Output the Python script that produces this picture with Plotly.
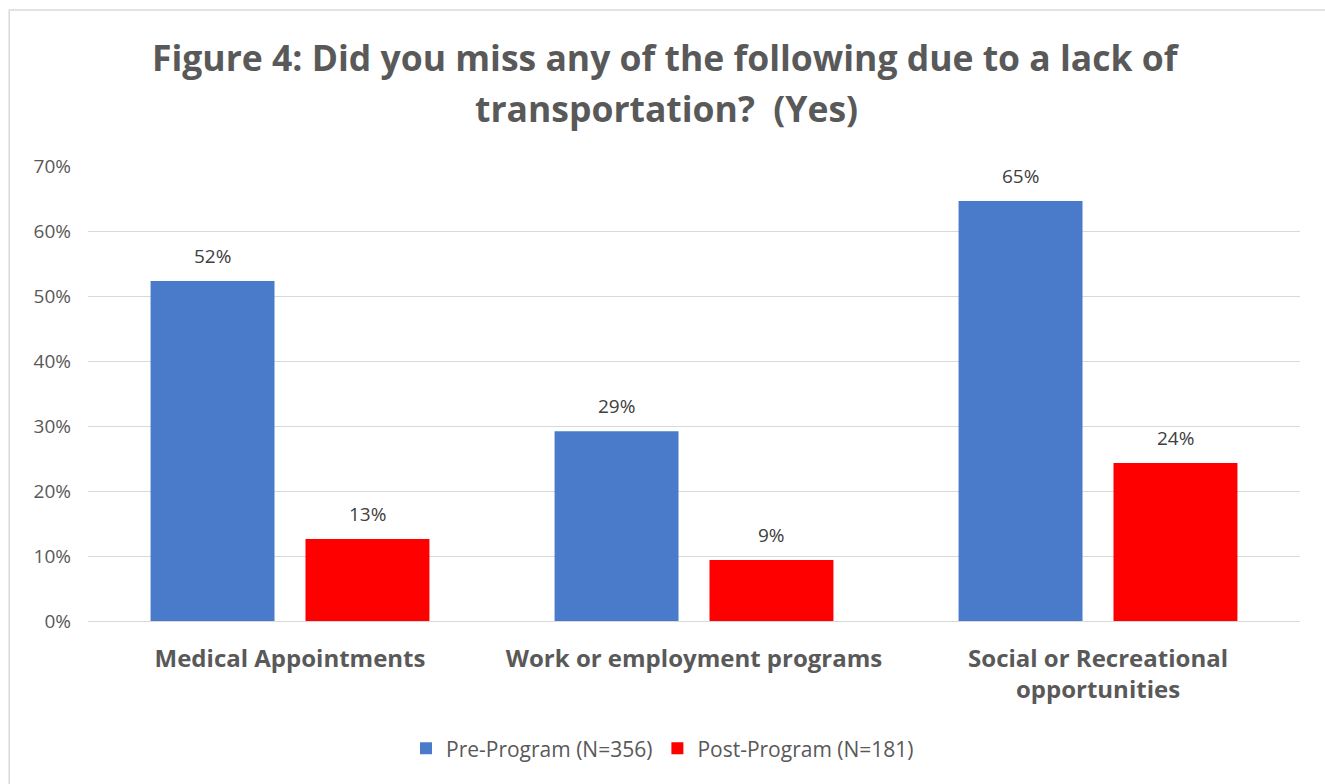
import plotly.graph_objects as go

# Survey results: share of respondents answering "Yes"
categories = [
    "Medical Appointments",
    "Work or employment programs",
    "Social or Recreational<br>opportunities",
]
pre_program = [0.523, 0.292, 0.646]
post_program = [0.126, 0.094, 0.243]
series_names = ["Pre-Program (N=356)", "Post-Program (N=181)"]
y_ticks = [0, 0.1, 0.2, 0.3, 0.4, 0.5, 0.6, 0.7]
title_lines = [
    "Figure 4: Did you miss any of the following due to a lack of",
    "transportation?  (Yes)",
]

FONT = "'Open Sans', sans-serif"
GREY = "#595959"
COLORS = ["#4a7bcb", "#ff0000"]
BAR_OFFSET_PX = 77.5  # half of one bar slot within a group

fig = go.Figure()
series = [pre_program, post_program]
for name, vals, col in zip(series_names, series, COLORS):
    fig.add_trace(go.Bar(
        x=categories, y=vals, name=name,
        marker=dict(color=col, line=dict(width=0)),
    ))

# Value labels above each bar
for j, vals in enumerate(series):
    shift = -BAR_OFFSET_PX if j == 0 else BAR_OFFSET_PX
    for cat, v in zip(categories, vals):
        fig.add_annotation(
            x=cat, y=v, xref="x", yref="y", xshift=shift, yshift=25,
            yanchor="middle", showarrow=False, text=f"{v:.0%}",
            font=dict(family=FONT, size=19, color="#404040"),
        )

# Two-line chart title
fig.add_annotation(text=title_lines[0], xref="paper", yref="paper",
                   x=0.477, y=1.2396, yanchor="middle", showarrow=False,
                   font=dict(family=FONT, size=35.5, color=GREY, weight="bold"))
fig.add_annotation(text=title_lines[1], xref="paper", yref="paper",
                   x=0.477, y=1.1275, yanchor="middle", showarrow=False,
                   font=dict(family=FONT, size=35.5, color=GREY, weight="bold"))

# Light frame around the chart area
fig.add_shape(type="rect", xref="paper", yref="paper",
              x0=-0.065, x1=1.03, y0=-0.38, y1=1.343,
              line=dict(color="#d9d9d9", width=1.5), layer="below")

fig.update_layout(
    width=1325, height=784,
    margin=dict(l=88, r=25, t=166, b=163),
    paper_bgcolor="white", plot_bgcolor="white",
    barmode="group", bargap=0.233, bargroupgap=0.2,
    showlegend=True,
    legend=dict(orientation="h", xref="container", yref="container",
                x=0.5, y=0.045, xanchor="center", yanchor="middle",
                font=dict(family=FONT, size=21, color=GREY),
                traceorder="normal"),
    xaxis=dict(showgrid=False, showline=False, ticks="",
               tickfont=dict(family=FONT, size=24, color=GREY, weight="bold"),
               ticklabelstandoff=21),
    yaxis=dict(range=[0, 0.7], tickvals=y_ticks, tickformat=".0%",
               showgrid=True, gridcolor="#d9d9d9", gridwidth=1,
               zeroline=True, zerolinecolor="#d9d9d9", zerolinewidth=1,
               showline=False, ticks="",
               tickfont=dict(family=FONT, size=19, color=GREY),
               ticklabelstandoff=16),
)

fig.write_html("out.html")
